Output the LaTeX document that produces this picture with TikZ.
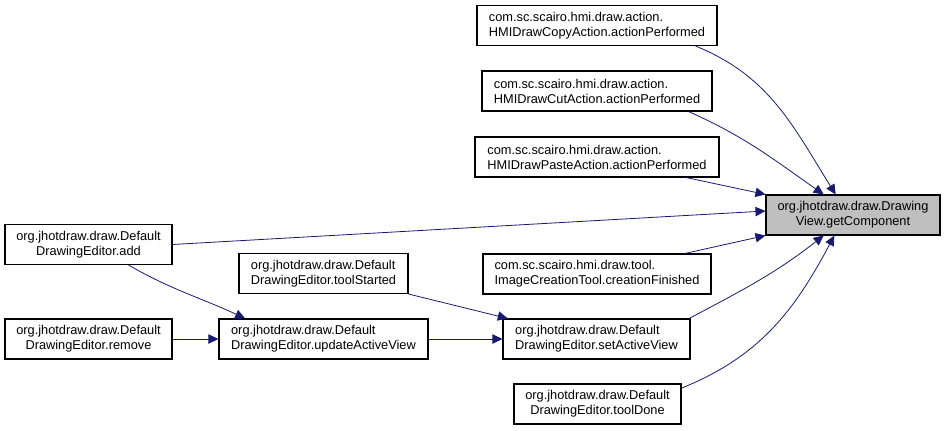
\documentclass[tikz,border=0pt]{standalone}
\usepackage{fontspec}
\setmainfont{Liberation Sans}
\usetikzlibrary{arrows.meta}

\begin{document}
\begin{tikzpicture}[x=0.75pt,y=-0.75pt]

% --------------------
% Parameters (tweak these)
% --------------------
\def\boxH{40}     % box height (px)
\definecolor{edgeblue}{HTML}{191970}
\definecolor{hilite}{HTML}{BFBFBF}

\tikzset{
  fn/.style={draw, thick, fill=white, inner sep=0pt, minimum height=\boxH*0.75pt,
    font=\fontsize{9.6pt}{11.25pt}\selectfont},
  fnl/.style={fn, align=left},
  fnc/.style={fn, align=center},
  call/.style={-{Triangle[length=7.5pt,width=7pt]}, edgeblue, semithick}
}

\useasboundingbox (0,0) rectangle (945,431);

% --------------------
% Target function (grey)
% --------------------
\node[fnc, fill=hilite, minimum width=174*0.75pt] (getc) at (853,215)
  {org.jhotdraw.draw.Drawing\\View.getComponent};

% --------------------
% Direct callers
% --------------------
\node[fnl, minimum width=240*0.75pt] (copy) at (597,25.5)
  {com.sc.scairo.hmi.draw.action.\\HMIDrawCopyAction.actionPerformed};
\node[fnl, minimum width=230*0.75pt] (cut) at (597,91)
  {com.sc.scairo.hmi.draw.action.\\HMIDrawCutAction.actionPerformed};
\node[fnl, minimum width=244*0.75pt] (paste) at (597,157)
  {com.sc.scairo.hmi.draw.action.\\HMIDrawPasteAction.actionPerformed};
\node[fnl, minimum width=228*0.75pt] (creation) at (597,274)
  {com.sc.scairo.hmi.draw.tool.\\ImageCreationTool.creationFinished};
\node[fnl, minimum width=187*0.75pt] (setav) at (596.5,339)
  {org.jhotdraw.draw.Default\\DrawingEditor.setActiveView};
\node[fnc, minimum width=167*0.75pt] (done) at (597.5,404)
  {org.jhotdraw.draw.Default\\DrawingEditor.toolDone};
\node[fnc, minimum width=167*0.75pt] (add) at (88.5,244.5)
  {org.jhotdraw.draw.Default\\DrawingEditor.add};

% --------------------
% Callers of setActiveView
% --------------------
\node[fnl, minimum width=169*0.75pt] (started) at (323.5,273.5)
  {org.jhotdraw.draw.Default\\DrawingEditor.toolStarted};
\node[fnl, minimum width=209*0.75pt] (update) at (323.5,339)
  {org.jhotdraw.draw.Default\\DrawingEditor.updateActiveView};
\node[fnc, minimum width=167*0.75pt] (remove) at (88.5,339)
  {org.jhotdraw.draw.Default\\DrawingEditor.remove};

% --------------------
% Call edges
% --------------------
\draw[call] (copy.south east) ++(-22,0) to[out=-22,in=122] ([xshift=-13pt]getc.north);
\draw[call] (cut.south east) ++(-24,0) to[out=-24,in=145] ([xshift=-22pt]getc.north);
\draw[call] ([xshift=-25pt]paste.south east) -- (getc.north west);
\draw[call] (add.east) -- ([yshift=3pt]getc.west);
\draw[call] ([xshift=-20pt]creation.north east) -- (getc.south west);
\draw[call] ([xshift=-1pt]setav.north east) to[out=28,in=-142] ([xshift=-22pt]getc.south);
\draw[call] ([yshift=-3.5pt]done.north east) to[out=22,in=-118] ([xshift=-14pt]getc.south);
\draw[call] (started.south east) -- ([xshift=4pt]setav.north west);
\draw[call] (update) -- (setav);
\draw[call] ([xshift=-33pt]add.south east) to[out=-30,in=155] ([xshift=20pt]update.north west);
\draw[call] (remove) -- (update);

\end{tikzpicture}
\end{document}
